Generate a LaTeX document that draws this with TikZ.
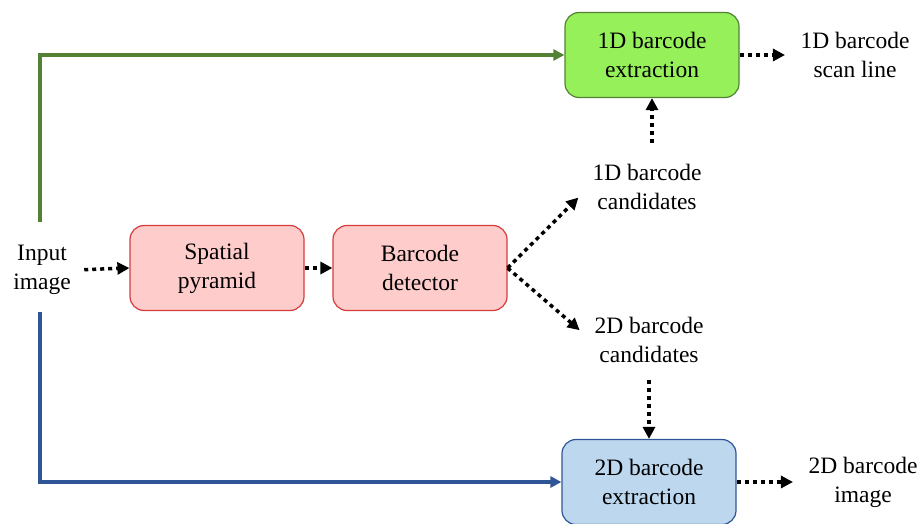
\documentclass[tikz,border=0pt]{standalone}
\usepackage{fontspec}
\setmainfont{Liberation Serif}
\newfontfamily\labelfont{Liberation Serif}
\usetikzlibrary{arrows.meta}
\definecolor{boxred}{RGB}{255,204,204}
\definecolor{linered}{RGB}{214,60,60}
\definecolor{pathgreen}{RGB}{84,130,53}
\definecolor{boxgreen}{RGB}{150,240,90}
\definecolor{pathblue}{RGB}{47,85,151}
\definecolor{boxblue}{RGB}{189,215,238}
\tikzset{
  stage/.style={draw, rounded corners=14, minimum width=174, minimum height=85,
    align=center, line width=1.2},
  txt/.style={align=center},
  flow/.style={line width=3.5, dash pattern=on 4 off 4,
    -{Triangle[length=12,width=12]}},
  route/.style={line width=4, -{Triangle[length=11,width=11]}},
}
\begin{document}
\begin{tikzpicture}[x=1pt,y=-1pt,font=\labelfont\fontsize{23.5}{29}\selectfont]
\useasboundingbox (0,0) rectangle (923,524);
% nodes
\node[txt] (in) at (42,270) {Input\\image};
\node[stage,fill=boxred,draw=linered] (pyr) at (217,268) {Spatial\\pyramid};
\node[stage,fill=boxred,draw=linered] (det) at (420,268) {Barcode\\detector};
\node[txt] (c1) at (647,187) {1D barcode\\candidates};
\node[txt] (c2) at (649,340) {2D barcode\\candidates};
\node[stage,fill=boxgreen,draw=pathgreen] (ext1) at (652,55) {1D barcode\\extraction};
\node[stage,fill=boxblue,draw=pathblue] (ext2) at (649,482) {2D barcode\\extraction};
\node[txt] (out1) at (855,55) {1D barcode\\scan line};
\node[txt] (out2) at (863,482) {2D barcode\\image};
% direct routes
\draw[route,pathgreen,shorten <=20] ([xshift=-2]in.north) |- (ext1.west);
\draw[route,pathblue,shorten <=14] ([xshift=-2]in.south) |- (ext2.west);
% data flow
\draw[flow,shorten <=10] (in.east) -- (pyr.west);
\draw[flow] (pyr.east) -- (det.east -| det.west);
\draw[flow,shorten >=15] (det.east) -- (c1.west);
\draw[flow,shorten >=15] (det.east) -- (c2.west);
\draw[flow,shorten <=18] (c1.north -| ext1.south) -- (ext1.south);
\draw[flow,shorten <=14] (c2.south) -- (ext2.north -| c2.south);
\draw[flow] (ext1.east) -- ([xshift=-12]out1.west);
\draw[flow] (ext2.east) -- ([xshift=-12]out2.west);
\end{tikzpicture}
\end{document}
